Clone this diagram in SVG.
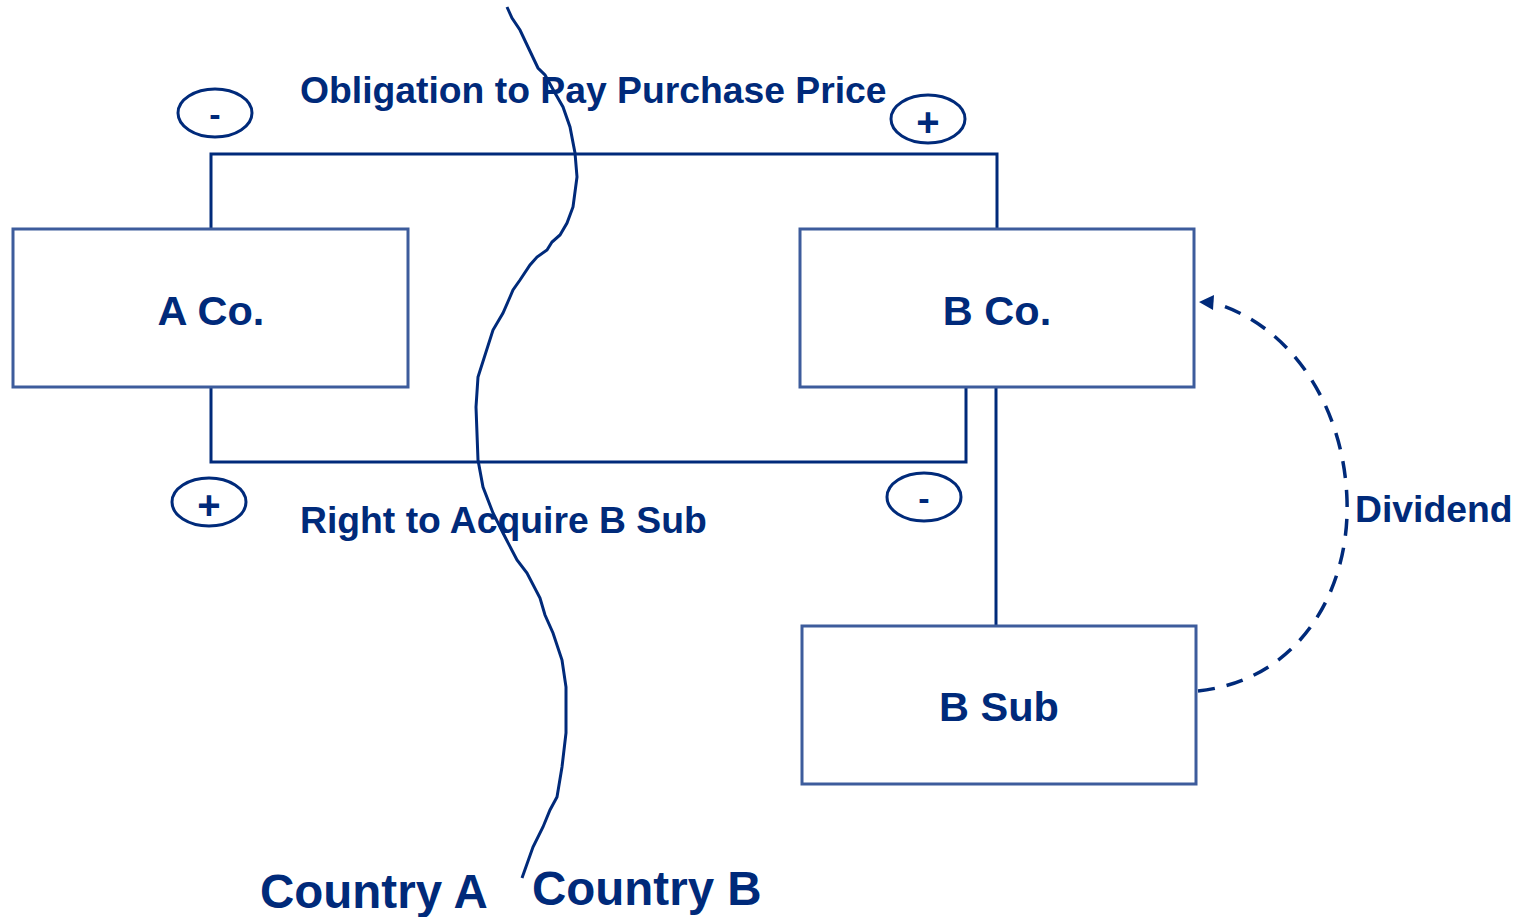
<svg xmlns="http://www.w3.org/2000/svg" width="1520" height="917" viewBox="0 0 1520 917">
<style>
.box{fill:#fff;stroke:#3d5c9c;stroke-width:3}
.ln{fill:none;stroke:#002a7a;stroke-width:3}
.t{font-family:"Liberation Sans",Arial,sans-serif;font-weight:bold;fill:#002a7a}
.ov{fill:#fff;stroke:#002a7a;stroke-width:3}
</style>
<rect width="1520" height="917" fill="#fff"/>
<g id="connectors">
<polyline class="ln" points="211,229 211,154 997,154 997,229"/>
<polyline class="ln" points="211,387 211,462 966,462 966,387"/>
<line class="ln" x1="996" y1="387" x2="996" y2="626"/>
<path d="M1198,691 C1300,680 1350,590 1347,500 C1344,405 1290,325 1214,303" fill="none" stroke="#002a7a" stroke-width="3.5" stroke-dasharray="17,12"/>
<path d="M1199,302 L1214,295 L1213,310 Z" fill="#002a7a"/>
</g>
<g id="border">
<path class="ln" stroke-width="2.5" d="M507,7 L512,18 L520,30 L528,47 L538,68 L545,75 L555,93 L563,107 L570,127 L575,153 L577,177 L573,207 L567,223 L560,235 L552,242 L547,250 L537,257 L530,265 L520,280 L513,290 L510,297 L503,313 L493,330 L478,377 L476,407 L478,460 L483,487 L493,513 L503,533 L517,560 L527,573 L540,598 L545,615 L553,633 L562,660 L566,687 L566,733 L562,767 L557,797 L550,810 L543,827 L533,847 L522,878"/>
</g>
<g id="aco">
<rect class="box" x="13" y="229" width="395" height="158"/>
<text class="t" x="211" y="325" font-size="41.5" text-anchor="middle">A Co.</text>
</g>
<g id="bco">
<rect class="box" x="800" y="229" width="394" height="158"/>
<text class="t" x="997" y="325" font-size="41.5" text-anchor="middle">B Co.</text>
</g>
<g id="bsub">
<rect class="box" x="802" y="626" width="394" height="158"/>
<text class="t" x="999" y="721" font-size="41.5" text-anchor="middle">B Sub</text>
</g>
<g id="labels">
<text class="t" x="300" y="103" font-size="37.3">Obligation to Pay Purchase Price</text>
<text class="t" x="300" y="533" font-size="37.3">Right to Acquire B Sub</text>
<text class="t" x="1355" y="522" font-size="37.3">Dividend</text>
<text class="t" x="260" y="908" font-size="47.5">Country A</text>
<text class="t" x="532" y="905" font-size="47.5">Country B</text>
</g>
<g id="sign1"><ellipse class="ov" cx="215" cy="113" rx="37" ry="24"/><text class="t" x="215" y="126" font-size="34" text-anchor="middle">-</text></g>
<g id="sign2"><ellipse class="ov" cx="928" cy="119" rx="37" ry="24"/><text class="t" x="928" y="136" font-size="40" text-anchor="middle">+</text></g>
<g id="sign3"><ellipse class="ov" cx="209" cy="502" rx="37" ry="24"/><text class="t" x="209" y="519" font-size="40" text-anchor="middle">+</text></g>
<g id="sign4"><ellipse class="ov" cx="924" cy="497" rx="37" ry="24"/><text class="t" x="924" y="510" font-size="34" text-anchor="middle">-</text></g>
</svg>
